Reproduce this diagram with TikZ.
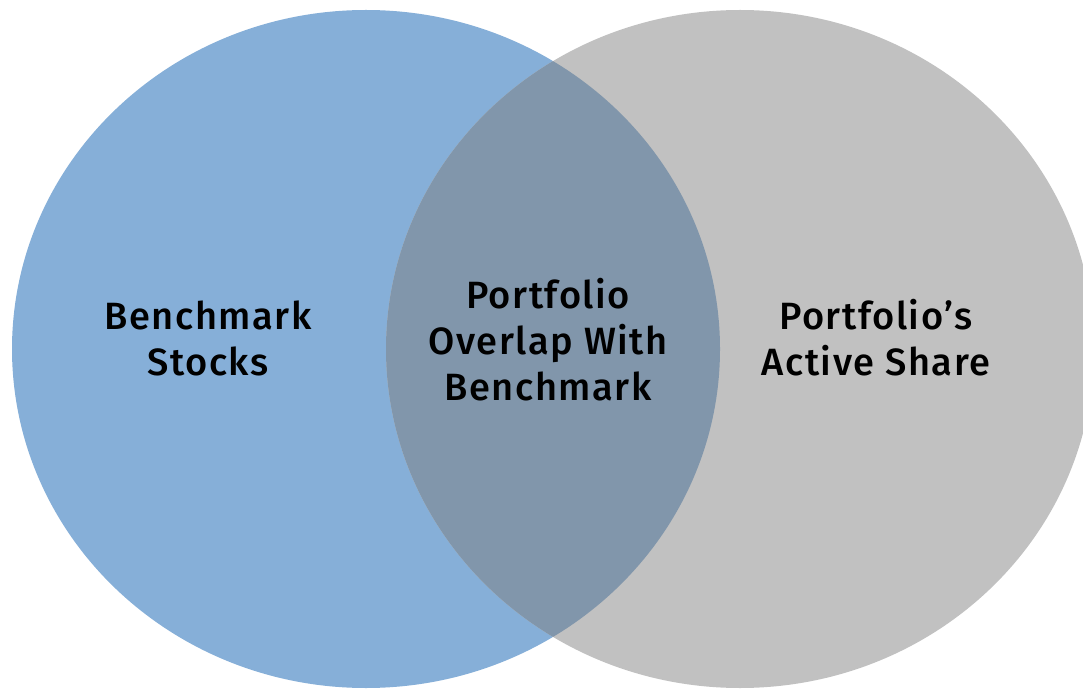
\documentclass[tikz,border=0pt]{standalone}
\usepackage{fontspec}
\setmainfont{Fira Sans}
\newfontfamily\vennfont[LetterSpace=4]{Fira Sans Medium}
\definecolor{benchblue}{RGB}{134,175,216}
\definecolor{activegray}{RGB}{193,193,193}
\definecolor{overlapblue}{RGB}{129,150,171}

\begin{document}
\begin{tikzpicture}[x=1pt, y=1pt,
    venntext/.style={align=center, font=\vennfont\fontsize{38}{46}\selectfont}]
    \useasboundingbox (0,0) rectangle (1083,689);
    % the two sets
    \fill[benchblue] (366,340) ellipse [x radius=354, y radius=339];
    \fill[activegray] (740,340) ellipse [x radius=354, y radius=339];
    \begin{scope}
        \clip (366,340) ellipse [x radius=354, y radius=339];
        \fill[overlapblue] (740,340) ellipse [x radius=354, y radius=339];
    \end{scope}
    % labels
    \node (bench) [venntext] at (208,351) {Benchmark\\Stocks};
    \node (overlap) [venntext] at (548,349) {Portfolio\\Overlap With\\Benchmark};
    \node (active) [venntext] at (876,351) {Portfolio’s\\Active Share};
\end{tikzpicture}
\end{document}
